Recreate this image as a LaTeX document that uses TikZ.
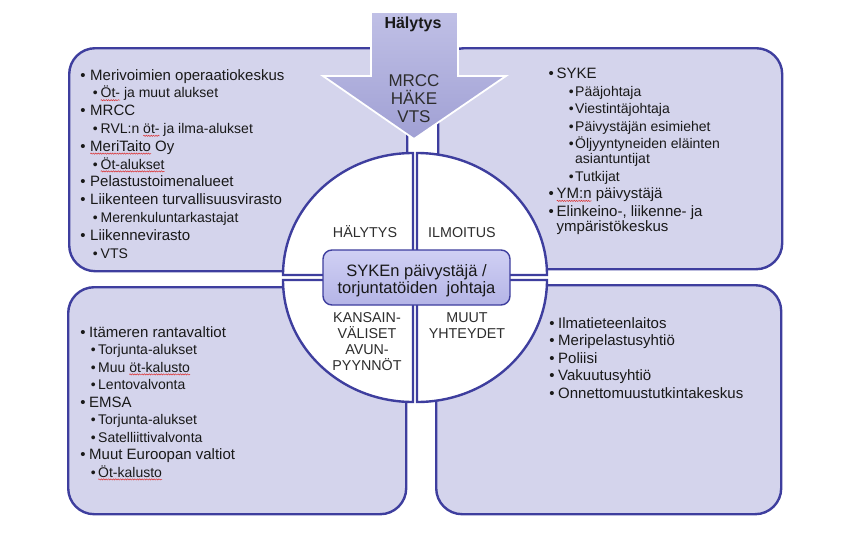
\documentclass[tikz,border=0pt]{standalone}
\usepackage{fontspec}
\setmainfont{Liberation Sans}
\usetikzlibrary{decorations.pathmorphing}
\definecolor{boxfill}{RGB}{212,212,236}
\definecolor{boxline}{RGB}{62,62,158}
\definecolor{arrtop}{RGB}{192,192,230}
\definecolor{arrbot}{RGB}{160,160,212}
\definecolor{ctop}{RGB}{208,208,244}
\definecolor{cbot}{RGB}{180,180,230}
\definecolor{txt}{RGB}{25,25,25}
\definecolor{lbl}{RGB}{45,45,45}
\definecolor{spellred}{RGB}{220,50,50}
\newsavebox\wavybox
\newcommand\wavy[1]{\sbox\wavybox{#1}\rlap{\usebox\wavybox}\tikz[overlay,baseline=0pt]\draw[spellred,line width=0.5pt,decorate,decoration={snake,amplitude=0.6pt,segment length=2.4pt}] (0pt,-2.4pt) -- (\wd\wavybox,-2.4pt);\hspace*{\wd\wavybox}}
\newlength\bwa \newlength\bib \newlength\bwb
\newcommand\LA[1]{\makebox[\bwa][l]{•}#1}
\newcommand\LB[1]{{\fontsize{14}{17.5}\selectfont\hspace*{\bib}\makebox[\bwb][l]{•}#1}}
\tikzset{
  box/.style={draw=boxline, fill=boxfill, line width=2.4pt, rounded corners=26pt, anchor=north west, inner sep=0pt},
  quad/.style={draw=boxline, fill=white, line width=2.4pt},
  listtext/.style={anchor=base west, align=left, text=txt, inner sep=0pt, font=\fontsize{15}{17.5}\selectfont},
  qlabel/.style={anchor=base, align=center, text=lbl, inner sep=0pt, font=\fontsize{14.3}{16}\selectfont},
  arrtext/.style={anchor=base, align=center, text=lbl, inner sep=0pt},
}
\begin{document}
\begin{tikzpicture}[x=1pt,y=-1pt]
\useasboundingbox (0,0) rectangle (859,533);
% four boxes
\node[box, minimum width=338, minimum height=223] (tl) at (68,47) {};
\node[box, minimum width=344, minimum height=221] (tr) at (437,47) {};
\node[box, minimum width=338, minimum height=227] (bl) at (67,286) {};
\node[box, minimum width=345, minimum height=229] (br) at (435,284) {};
% arrow
\shade[top color=arrtop, bottom color=arrbot, draw=white, line width=1.8pt, line join=miter]
  (371,12) -- (458,12) -- (458,76) -- (506,76) -- (414,139) -- (323,76) -- (371,76) -- cycle;
\node[arrtext, font=\fontsize{16}{18}\selectfont\bfseries, text=txt] (halytys) at (413,28) {Hälytys};
\node[arrtext, font=\fontsize{17}{18}\selectfont] (mrcc) at (414,122) {MRCC\\HÄKE\\VTS};
% quadrants
\draw[quad] (413,275) -- (283,275) arc[start angle=180, end angle=270, x radius=130, y radius=122] -- cycle;
\draw[quad] (417,275) -- (547,275) arc[start angle=0, end angle=-90, x radius=130, y radius=122] -- cycle;
\draw[quad] (413,280) -- (283,280) arc[start angle=180, end angle=90, x radius=130, y radius=122] -- cycle;
\draw[quad] (417,280) -- (547,280) arc[start angle=0, end angle=90, x radius=130, y radius=122] -- cycle;
\node[qlabel] (qa) at (365,237) {HÄLYTYS};
\node[qlabel] (qb) at (462,237) {ILMOITUS};
\node[qlabel] (qc) at (367,370) {KANSAIN-\\VÄLISET\\AVUN-\\PYYNNÖT};
\node[qlabel] (qd) at (467,338) {MUUT\\YHTEYDET};
% centre box
\node[draw=boxline, line width=1.4pt, rounded corners=9pt, top color=ctop, bottom color=cbot, minimum width=187, minimum height=55, inner sep=0pt] (centre) at (416.5,277.5) {};
\node[anchor=base, align=center, text=txt, inner sep=0pt, font=\fontsize{16.5}{17}\selectfont] (centretext) at (416.5,293) {SYKEn päivystäjä /\\torjuntatöiden~ johtaja};
% lists
\node[listtext, font=\fontsize{15}{17.8}\selectfont, execute at begin node={\setlength\bwa{9.9pt}\setlength\bib{12.5pt}\setlength\bwb{7.9pt}}] (tllist) at (80.1,258) {%
\LA{Merivoimien operaatiokeskus}\\
\LB{\wavy{Öt-} ja muut alukset}\\
\LA{MRCC}\\
\LB{RVL:n \wavy{öt-} ja ilma-alukset}\\
\LA{\wavy{MeriTaito} Oy}\\
\LB{\wavy{Öt-alukset}}\\
\LA{Pelastustoimenalueet}\\
\LA{Liikenteen turvallisuusvirasto}\\
\LB{Merenkuluntarkastajat}\\
\LA{Liikennevirasto}\\
\LB{VTS}};
\node[listtext, execute at begin node={\setlength\bwa{8.1pt}\setlength\bib{20.2pt}\setlength\bwb{6.4pt}}] (trlist) at (548.4,231) {%
\LA{SYKE}\\
\LB{Pääjohtaja}\\
\LB{Viestintäjohtaja}\\
\LB{Päivystäjän esimiehet}\\
\LB{Öljyyntyneiden eläinten}\\[-2.5pt]
{\fontsize{14}{17.5}\selectfont\hspace*{26.6pt}asiantuntijat}\\
\LB{Tutkijat}\\
\LA{\wavy{YM:n} päivystäjä}\\
\LA{Elinkeino-, liikenne- ja}\\[-2.5pt]
\hspace*{8.1pt}ympäristökeskus};
\node[listtext, execute at begin node={\setlength\bwa{8.9pt}\setlength\bib{10.5pt}\setlength\bwb{7.4pt}}] (bllist) at (80.1,477) {%
\LA{Itämeren rantavaltiot}\\
\LB{Torjunta-alukset}\\
\LB{Muu \wavy{öt-kalusto}}\\
\LB{Lentovalvonta}\\
\LA{EMSA}\\
\LB{Torjunta-alukset}\\
\LB{Satelliittivalvonta}\\
\LA{Muut Euroopan valtiot}\\
\LB{\wavy{Öt-kalusto}}};
\node[listtext, execute at begin node={\setlength\bwa{8.9pt}}] (brlist) at (549.1,398) {%
\LA{Ilmatieteenlaitos}\\
\LA{Meripelastusyhtiö}\\
\LA{Poliisi}\\
\LA{Vakuutusyhtiö}\\
\LA{Onnettomuustutkintakeskus}};
\end{tikzpicture}
\end{document}
